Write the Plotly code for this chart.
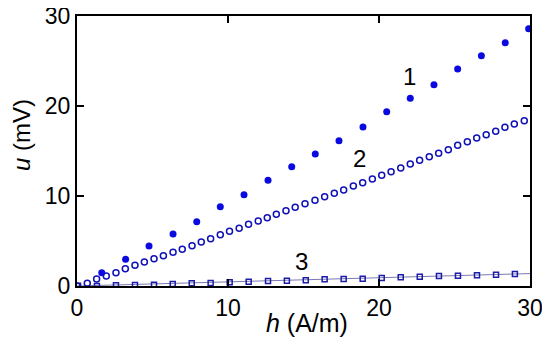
import plotly.graph_objects as go

# Series 1 (filled dots)
h1 = [1.64, 3.22, 4.77, 6.36, 7.93, 9.49, 11.06, 12.65, 14.22, 15.78, 17.35, 18.94,
      20.51, 22.07, 23.64, 25.21, 26.78, 28.36, 29.91]
u1 = [1.48, 2.96, 4.44, 5.78, 7.15, 8.81, 10.15, 11.74, 13.26, 14.67, 16.15, 17.67,
      19.37, 20.85, 22.37, 24.11, 25.59, 27.04, 28.59]

# Series 2 (open circles)
h2 = [0.0, 0.68, 1.3, 1.94, 2.58, 3.2, 3.84, 4.46, 5.1, 5.72, 6.36, 6.97, 7.62, 8.23,
      8.85, 9.49, 10.1, 10.74, 11.36, 12.0, 12.6, 13.2, 13.84, 14.45, 15.1, 15.76,
      16.4, 17.04, 17.66, 18.3, 18.92, 19.56, 20.18, 20.8, 21.44, 22.07, 22.69, 23.33,
      23.95, 24.59, 25.21, 25.85, 26.47, 27.1, 27.73, 28.34, 28.96, 29.62]
u2 = [0.0, 0.3, 0.78, 1.11, 1.48, 1.93, 2.30, 2.67, 3.04, 3.37, 3.74, 4.07, 4.48, 4.89,
      5.26, 5.70, 6.07, 6.41, 6.85, 7.22, 7.59, 7.96, 8.37, 8.74, 9.15, 9.52,
      9.92, 10.3, 10.67, 11.1, 11.48, 11.89, 12.3, 12.7, 13.1, 13.55, 13.96, 14.37,
      14.74, 15.15, 15.63, 16.03, 16.44, 16.81, 17.19, 17.63, 18.0, 18.37]

# Series 3 (open squares with line)
h3 = [0.07, 1.32, 2.58, 3.84, 5.1, 6.34, 7.6, 8.85, 10.11, 11.37, 12.65, 13.9, 15.15,
      16.4, 17.66, 18.92, 20.18, 21.44, 22.7, 23.97, 25.23, 26.49, 27.75, 29.0]
u3 = [0.03, 0.0, 0.08, 0.1, 0.15, 0.22, 0.30, 0.33, 0.41, 0.48, 0.56, 0.59, 0.65,
      0.74, 0.78, 0.81, 0.89, 0.96, 1.04, 1.11, 1.15, 1.19, 1.26, 1.33]
h3_line = [0.0, 30.0]
u3_line = [0.0, 1.38]

labels = [("1", 22.05, 23.3), ("2", 18.74, 14.2), ("3", 14.9, 2.67)]

FONT = "Liberation Sans, Arial"

fig = go.Figure()
fig.add_trace(go.Scatter(x=h3_line, y=u3_line, mode="lines",
                         line=dict(color="#7a7ab0", width=1), showlegend=False))
fig.add_trace(go.Scatter(x=h3, y=u3, mode="markers",
                         marker=dict(symbol="square-open", size=5, color="#1c1ca8",
                                     line=dict(width=1.5)), showlegend=False))
fig.add_trace(go.Scatter(x=h2, y=u2, mode="markers",
                         marker=dict(symbol="circle-open", size=6, color="#1010b8",
                                     line=dict(width=1.5)), showlegend=False))
fig.add_trace(go.Scatter(x=h1, y=u1, mode="markers",
                         marker=dict(symbol="circle", size=7, color="#0a0ae0"),
                         showlegend=False))

for txt, x, y in labels:
    fig.add_annotation(x=x, y=y, text=txt, showarrow=False,
                       font=dict(family=FONT, size=24, color="black"))

fig.add_annotation(x=0.507, y=-0.137, xref="paper", yref="paper", xanchor="center", yanchor="middle",
                   text="<i>h</i> (A/m)", showarrow=False,
                   font=dict(family=FONT, size=25, color="black"))
fig.add_annotation(x=-0.121, y=0.56, xref="paper", yref="paper", xanchor="center", yanchor="middle",
                   text="<i>u</i> (mV)", showarrow=False, textangle=-90,
                   font=dict(family=FONT, size=24, color="black"))

axis_common = dict(showgrid=False, zeroline=False, showline=True, linecolor="black",
                   linewidth=2, mirror="ticks", ticks="inside", ticklen=7, tickwidth=2,
                   tickcolor="black", automargin=False, ticklabeloverflow="allow",
                   tickfont=dict(family=FONT, size=23, color="black"))
fig.update_xaxes(range=[0, 30], tickvals=[0, 10, 20, 30], **axis_common)
fig.update_yaxes(range=[0, 30], tickvals=[0, 10, 20, 30], **axis_common)

# page body has an 8px default margin, so the figure is offset accordingly
fig.update_layout(width=542, height=338, margin=dict(l=69, r=20, t=8, b=60),
                  plot_bgcolor="white", paper_bgcolor="white")
fig.write_html("out.html")
